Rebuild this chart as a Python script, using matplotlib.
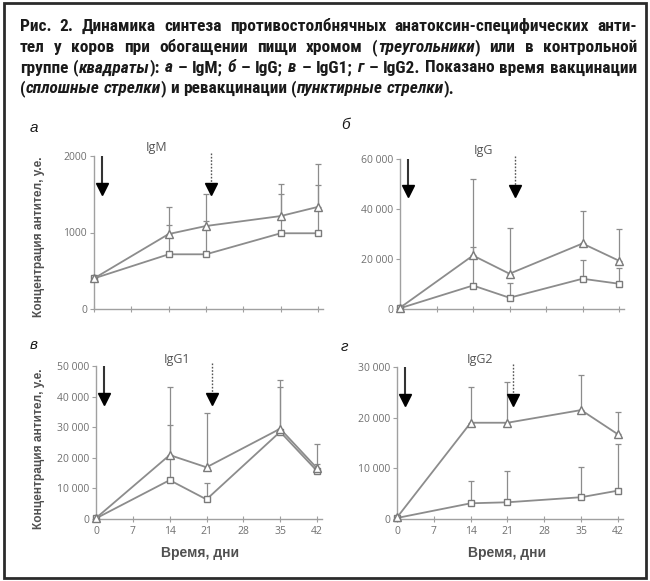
import matplotlib
matplotlib.use("Agg")
import matplotlib.pyplot as plt
from matplotlib.patches import Rectangle
from matplotlib import font_manager
import numpy as np

W, H = 650, 581
DPI = 100

# ---------------- data ----------------
days = [0, 14, 21, 35, 42]
x_ticks = [0, 7, 14, 21, 28, 35, 42]
x_ticklabels = ["0", "7", "14", "21", "28", "35", "42"]

igm_tri = [400, 980, 1085, 1215, 1335]
igm_tri_top = [400, 1335, 1500, 1640, 1890]
igm_sq = [400, 715, 715, 990, 990]
igm_sq_top = [400, 1100, 1150, 1500, 1620]
igm_yticks = [0, 1000, 2000]
igm_ylabels = ["0", "1000", "2000"]

igg_tri = [500, 21400, 14100, 26200, 19300]
igg_tri_top = [500, 52000, 32400, 39300, 32000]
igg_sq = [300, 9400, 4500, 12100, 10100]
igg_sq_top = [300, 24800, 10500, 19500, 16500]
igg_yticks = [0, 20000, 40000, 60000]
igg_ylabels = ["0", "20 000", "40 000", "60 000"]

igg1_tri = [300, 20900, 16900, 29500, 16600]
igg1_tri_top = [300, 43000, 34500, 45400, 24500]
igg1_sq = [200, 12700, 6400, 28500, 15700]
igg1_sq_top = [200, 30700, 11700, 43000, 18000]
igg1_yticks = [0, 10000, 20000, 30000, 40000, 50000]
igg1_ylabels = ["0", "10 000", "20 000", "30 000", "40 000", "50 000"]

igg2_tri = [300, 19000, 19000, 21500, 16700]
igg2_tri_top = [300, 26100, 27000, 28400, 21100]
igg2_sq = [200, 3100, 3300, 4300, 5600]
igg2_sq_top = [200, 7500, 9400, 10200, 14800]
igg2_yticks = [0, 10000, 20000, 30000]
igg2_ylabels = ["0", "10 000", "20 000", "30 000"]

vacc_day = 1.5
revacc_day = 22.0

caption_lines = [
    "Рис. 2. Динамика синтеза противостолбнячных анатоксин-специфических анти-",
    "тел у коров при обогащении пищи хромом (_треугольники_) или в контрольной",
    "группе (_квадраты_): _а_ – IgM; _б_ – IgG; _в_ – IgG1; _г_ – IgG2. Показано время вакцинации",
    "(_сплошные стрелки_) и ревакцинации (_пунктирные стрелки_).",
]

# ---------------- fonts ----------------
installed = {f.name for f in font_manager.fontManager.ttflist}


def pick(cands):
    for c in cands:
        if c in installed:
            return c
    return "DejaVu Sans"


CAP_FAMILY = pick(["Liberation Sans Narrow", "Arial Narrow", "Roboto Condensed",
                   "Liberation Sans", "Roboto"])
CAP_FONT = [CAP_FAMILY, "DejaVu Sans"]
LAB_FONT = [pick(["Liberation Sans", "Roboto"]), "DejaVu Sans"]
TICK_FONT = [pick(["Open Sans", "Lato"]), "DejaVu Sans"]

# ---------------- figure ----------------
fig = plt.figure(figsize=(W / DPI, H / DPI), dpi=DPI, facecolor="white")

fig.patches.append(Rectangle((4 / W, 3 / H), 642 / W, 575 / H, transform=fig.transFigure,
                             fill=False, edgecolor="#2b2b2b", linewidth=2.0))

renderer = fig.canvas.get_renderer()


def parse_word(word, italic_state):
    pieces = []
    buf = ""
    for ch in word:
        if ch == "_":
            if buf:
                pieces.append((buf, italic_state))
            buf = ""
            italic_state = not italic_state
        else:
            buf += ch
    if buf:
        pieces.append((buf, italic_state))
    return pieces, italic_state


def measure(txt, italic, size):
    t = fig.text(0, 0, txt, fontsize=size, fontweight="bold",
                 fontstyle="italic" if italic else "normal", family=CAP_FONT)
    w = t.get_window_extent(renderer).width
    t.remove()
    return w


x_left, x_right = 20, 637
baselines = [31, 52, 72.5, 93]


def layout(size):
    state = False
    out = []
    for line in caption_lines:
        parsed = []
        for w in line.split(" "):
            p, state = parse_word(w, state)
            parsed.append([(txt, it, measure(txt, it, size)) for txt, it in p])
        out.append(parsed)
    return out


base_size = 12.0
sp = measure("a b", False, base_size) - measure("ab", False, base_size)
lay = layout(base_size)
natural = [sum(sum(pw for _, _, pw in p) for p in parsed) + sp * (len(parsed) - 1)
           for parsed in lay]
CAP_SIZE = min(12.5, base_size * (x_right - x_left) * 0.995 / max(natural))

lay = layout(CAP_SIZE)
space_w = measure("a b", False, CAP_SIZE) - measure("ab", False, CAP_SIZE)
for li, parsed in enumerate(lay):
    widths = [sum(pw for _, _, pw in p) for p in parsed]
    total = sum(widths)
    if li < len(lay) - 1:
        gap = (x_right - x_left - total) / (len(parsed) - 1)
    else:
        gap = space_w
    x = x_left
    for p, wsum in zip(parsed, widths):
        xx = x
        for txt, it, pw in p:
            fig.text(xx / W, 1 - baselines[li] / H, txt, fontsize=CAP_SIZE, fontweight="bold",
                     fontstyle="italic" if it else "normal", family=CAP_FONT,
                     va="baseline", ha="left", color="#1a1a1a")
            xx += pw
        x += wsum + gap

LINE_C = "#8c8c8c"
AX_C = "#a0a0a0"


def make_axes(x0, x42, y0, ytop, ymax):
    xmax = 43.0
    wpx = (x42 - x0) * xmax / 42.0
    ax = fig.add_axes([x0 / W, (H - y0) / H, wpx / W, (y0 - ytop) / H])
    ax.set_xlim(0, xmax)
    ax.set_ylim(0, ymax)
    ax.set_facecolor("none")
    for s in ["top", "right"]:
        ax.spines[s].set_visible(False)
    for s in ["left", "bottom"]:
        ax.spines[s].set_color(AX_C)
        ax.spines[s].set_linewidth(1.0)
    ax.tick_params(axis="x", direction="inout", length=4, width=0.8, color=AX_C,
                   labelsize=7.5, labelcolor="#707070", pad=3)
    ax.tick_params(axis="y", direction="out", length=3, width=0.8, color=AX_C,
                   labelsize=7.5, labelcolor="#707070", pad=2)
    return ax


def draw_panel(ax, tri, tri_top, sq, sq_top, yt, yl, show_x, title, title_xy, letter,
               letter_xy, ylab_xy, xlab_xy):
    tri = np.array(tri, float)
    sq = np.array(sq, float)
    ax.errorbar(days, sq, yerr=[np.zeros(len(sq)), np.array(sq_top) - sq], fmt="none",
                ecolor=LINE_C, elinewidth=0.9, capsize=2, capthick=0.9, clip_on=False, zorder=2)
    ax.errorbar(days, tri, yerr=[np.zeros(len(tri)), np.array(tri_top) - tri], fmt="none",
                ecolor=LINE_C, elinewidth=0.9, capsize=2, capthick=0.9, clip_on=False, zorder=2)
    ax.plot(days, sq, color=LINE_C, lw=1.3, marker="s", ms=5, mfc="white", mec="#7a7a7a",
            mew=1.0, clip_on=False, zorder=3)
    ax.plot(days, tri, color=LINE_C, lw=1.3, marker="^", ms=6, mfc="white", mec="#7a7a7a",
            mew=1.0, clip_on=False, zorder=3)
    ax.set_xticks(x_ticks)
    if show_x:
        ax.set_xticklabels(x_ticklabels, family=TICK_FONT)
    else:
        ax.set_xticklabels([])
    ax.set_yticks(yt)
    ax.set_yticklabels(yl, family=TICK_FONT)
    tr = ax.get_xaxis_transform()
    ax.plot([vacc_day, vacc_day], [1.0, 0.80], transform=tr, color="#333333", lw=1.5,
            clip_on=False, solid_capstyle="butt", zorder=4)
    ax.plot([vacc_day], [0.785], transform=tr, marker="v", ms=9, color="black",
            clip_on=False, zorder=5)
    ax.plot([revacc_day, revacc_day], [1.02, 0.80], transform=tr, color="#555555", lw=1.0,
            ls=(0, (1.2, 1.2)), clip_on=False, zorder=4)
    ax.plot([revacc_day], [0.785], transform=tr, marker="v", ms=9, color="black",
            clip_on=False, zorder=5)
    fig.text(title_xy[0] / W, 1 - title_xy[1] / H, title, ha="center", va="center",
             fontsize=9, color="#555555", family=TICK_FONT)
    fig.text(letter_xy[0] / W, 1 - letter_xy[1] / H, letter, ha="left", va="center",
             fontsize=11, fontstyle="italic", family=LAB_FONT, color="#1a1a1a")
    if ylab_xy is not None:
        fig.text(ylab_xy[0] / W, 1 - ylab_xy[1] / H, "Концентрация антител, у.е.",
                 rotation=90, ha="center", va="center", fontsize=8.6, fontweight="bold",
                 color="#505050", family=LAB_FONT)
    if xlab_xy is not None:
        fig.text(xlab_xy[0] / W, 1 - xlab_xy[1] / H, "Время, дни", ha="center", va="center",
                 fontsize=10, fontweight="bold", color="#505050", family=LAB_FONT)


ax_a = make_axes(94, 318, 309, 156, 2000)
draw_panel(ax_a, igm_tri, igm_tri_top, igm_sq, igm_sq_top, igm_yticks, igm_ylabels,
           False, "IgM", (157, 147), "а", (30, 128), (39, 237), None)

ax_b = make_axes(400, 619, 309, 159, 60000)
draw_panel(ax_b, igg_tri, igg_tri_top, igg_sq, igg_sq_top, igg_yticks, igg_ylabels,
           False, "IgG", (483, 150), "б", (341, 125), None, None)

ax_c = make_axes(96, 317, 519, 366, 50000)
draw_panel(ax_c, igg1_tri, igg1_tri_top, igg1_sq, igg1_sq_top, igg1_yticks, igg1_ylabels,
           True, "IgG1", (177, 359), "в", (30, 345), (39, 449), (200, 553))

ax_d = make_axes(397, 618, 519, 367, 30000)
draw_panel(ax_d, igg2_tri, igg2_tri_top, igg2_sq, igg2_sq_top, igg2_yticks, igg2_ylabels,
           True, "IgG2", (480, 359), "г", (341, 347), None, (507, 553))

fig.savefig("out.png", dpi=DPI, facecolor="white")
